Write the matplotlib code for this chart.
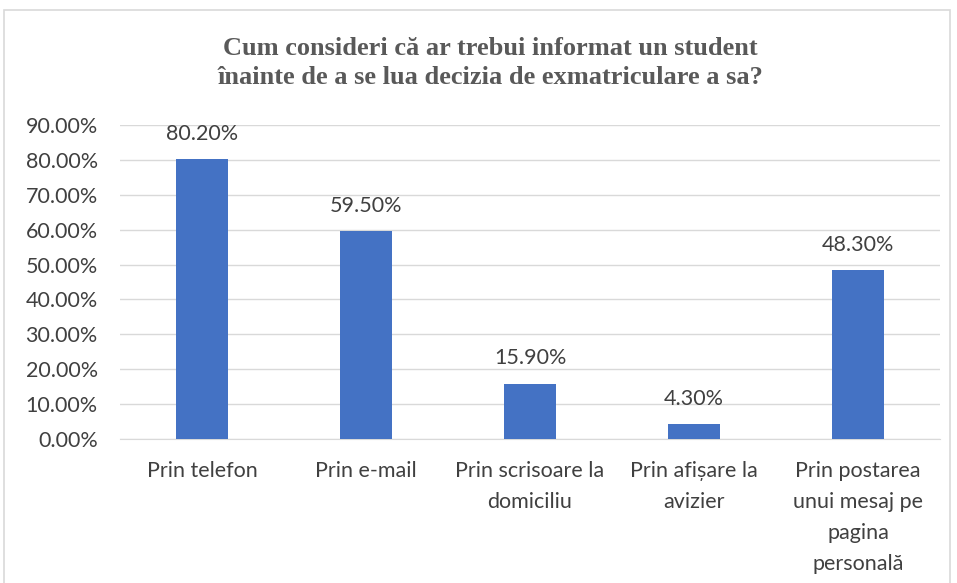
import matplotlib
matplotlib.use("Agg")
import matplotlib.pyplot as plt
from matplotlib.patches import Rectangle
from matplotlib.ticker import FuncFormatter

categories = ["Prin telefon", "Prin e-mail", "Prin scrisoare la\ndomiciliu",
              "Prin afișare la\navizier", "Prin postarea\nunui mesaj pe\npagina\npersonală"]
values = [80.2, 59.5, 15.9, 4.3, 48.3]
yticks = [0, 10, 20, 30, 40, 50, 60, 70, 80, 90]

W, H = 957, 583
fig = plt.figure(figsize=(W / 100, H / 100), dpi=100)
fig.patches.append(Rectangle((4 / W, -0.01), (950 - 4) / W, (H - 10) / H + 0.01,
                             transform=fig.transFigure, fill=False,
                             edgecolor="#d9d9d9", linewidth=1.2))

ax = fig.add_axes([120 / W, 144 / H, 820 / W, 314 / H])
x = range(len(categories))
bars = ax.bar(x, values, width=0.32, color="#4472C4", zorder=3)

for b, v in zip(bars, values):
    ax.annotate(f"{v:.2f}%", (b.get_x() + b.get_width() / 2, v),
                xytext=(0, 11), textcoords="offset points", ha="center", va="bottom",
                fontsize=15.5, family="Lato", color="#404040")

ax.set_xlim(-0.5, len(categories) - 0.5)
ax.set_ylim(0, 90)
ax.set_yticks(yticks)
ax.yaxis.set_major_formatter(FuncFormatter(lambda v, p: f"{v:.2f}%"))
ax.grid(axis="y", color="#d9d9d9", linewidth=1, zorder=0)
for s in ["top", "right", "left"]:
    ax.spines[s].set_visible(False)
ax.spines["bottom"].set_color("#d9d9d9")
ax.tick_params(length=0, colors="#404040", labelsize=15.5)
ax.tick_params(axis="y", pad=16)
ax.tick_params(axis="x", pad=16)
ax.set_xticks(list(x))
ax.set_xticklabels(categories, family="Lato", linespacing=1.68, va="top")
for t in ax.get_yticklabels():
    t.set_family("Lato")

fig.text(490 / W, 1 - 63 / H, "Cum consideri că ar trebui informat un student\nînainte de a se lua decizia de exmatriculare a sa?",
         ha="center", va="center", fontsize=19, fontweight="bold", family="Liberation Serif",
         color="#595959", linespacing=1.35)

fig.savefig("out.png", dpi=100)
